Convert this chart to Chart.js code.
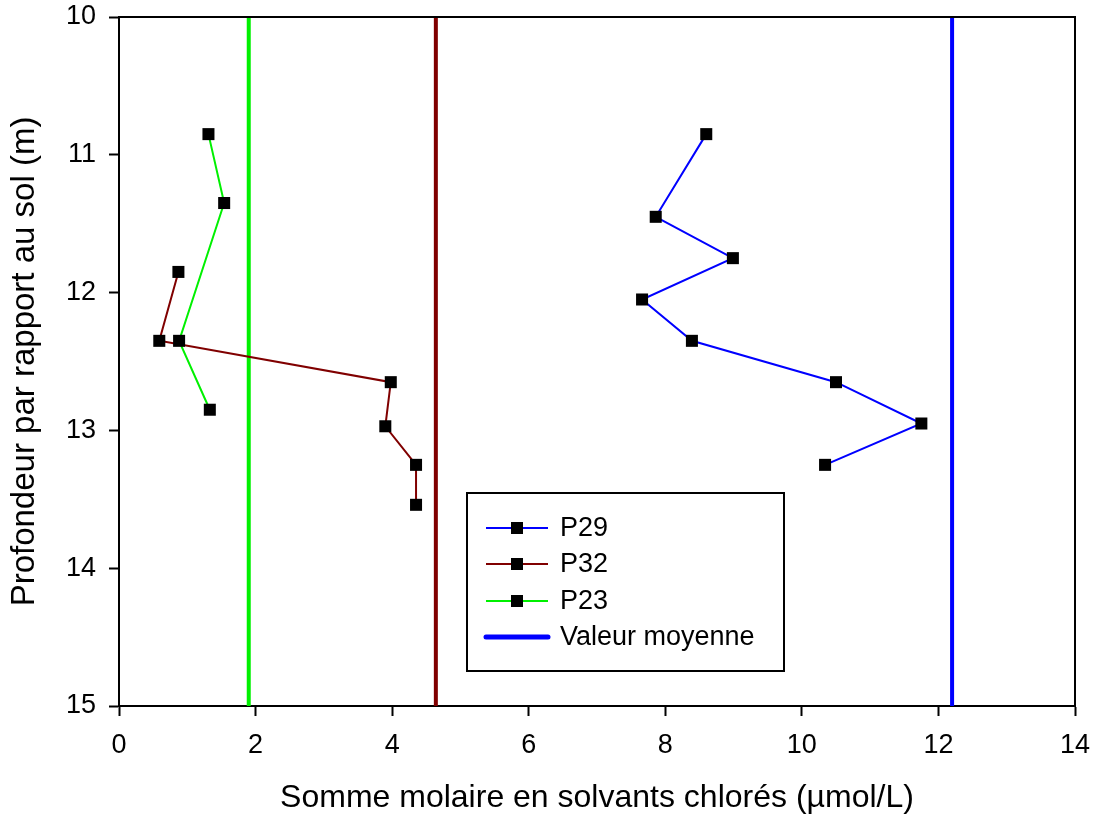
<!DOCTYPE html>
<html>
<head>
<meta charset="utf-8">
<script src="https://cdn.jsdelivr.net/npm/chart.js@4.4.1/dist/chart.umd.min.js"></script>
<style>
  html, body { margin: 0; padding: 0; background: #fff; }
  canvas { display: block; }
</style>
</head>
<body>
<canvas id="profilChart" width="1095" height="818"></canvas>
<script>
// profondeurs (m) et sommes molaires (µmol/L)
var seriesNames = ['P29', 'P32', 'P23'];
var depthP29 = [10.85, 11.45, 11.75, 12.05, 12.35, 12.65, 12.95, 13.25];
var valP29   = [8.60, 7.86, 8.99, 7.66, 8.39, 10.50, 11.75, 10.34];
var depthP32 = [11.85, 12.35, 12.65, 12.97, 13.25, 13.54];
var valP32   = [0.87, 0.59, 3.98, 3.90, 4.35, 4.35];
var depthP23 = [10.85, 11.35, 12.35, 12.85];
var valP23   = [1.31, 1.54, 0.88, 1.33];
// valeur moyenne de chaque puits : P29, P32, P23
var meanValues = [12.20, 4.64, 1.90];
var depthRange = [10, 15];
var xTickMin = 0, xTickMax = 14, xTickStep = 2;

var colors = ['#0000ff', '#800000', '#00f000'];
var FONT = "'Liberation Sans', Arial, sans-serif";

function toPoints(xs, ys) {
	var pts = [];
	for (var i = 0; i < xs.length; i++) pts.push({x: xs[i], y: ys[i]});
	return pts;
}

function serie(label, xs, ys, color, order) {
	return {
		label: label,
		data: toPoints(xs, ys),
		showLine: true,
		borderColor: color,
		borderWidth: 2,
		tension: 0,
		pointStyle: 'rect',
		pointRadius: 8.5,
		pointBorderWidth: 0,
		pointBackgroundColor: '#000',
		order: order
	};
}

function meanLine(value, color) {
	return {
		label: 'Valeur moyenne',
		data: [{x: value, y: depthRange[0]}, {x: value, y: depthRange[1]}],
		showLine: true,
		borderColor: color,
		borderWidth: 4,
		pointRadius: 0,
		order: 10
	};
}

// pas de marge auto pour les labels : zone de tracé fixe
function noPad(s) {
	s.paddingTop = 0;
	s.paddingBottom = 0;
	s.paddingLeft = 0;
	s.paddingRight = 0;
}

// cadre + légende dessinés à la main
var framePlugin = {
	id: 'frame',
	afterDatasetsDraw: function(chart) {
		var a = chart.chartArea, ctx = chart.ctx;
		ctx.save();
		ctx.strokeStyle = '#000';
		ctx.lineWidth = 2;
		ctx.beginPath();
		ctx.moveTo(a.left, a.top);
		ctx.lineTo(a.right, a.top);
		ctx.lineTo(a.right, a.bottom);
		ctx.stroke();

		// légende
		var bx = a.left + 348, by = a.top + 476, bw = 317, bh = 178;
		ctx.lineWidth = 2;
		ctx.fillStyle = '#fff';
		ctx.fillRect(bx, by, bw, bh);
		ctx.strokeRect(bx, by, bw, bh);
		var rowY = [by + 35, by + 71, by + 108, by + 144];
		var items = chart.data.datasets;
		ctx.font = '27px ' + FONT;
		ctx.textBaseline = 'middle';
		for (var i = 0; i < 4; i++) {
			var ds = items[i];
			var y = rowY[i];
			ctx.strokeStyle = ds.borderColor;
			ctx.lineWidth = i < 3 ? 2 : 5;
			ctx.lineCap = i < 3 ? 'butt' : 'round';
			ctx.beginPath();
			ctx.moveTo(bx + 19, y);
			ctx.lineTo(bx + 81, y);
			ctx.stroke();
			if (i < 3) {
				ctx.fillStyle = '#000';
				ctx.fillRect(bx + 50 - 6, y - 6, 12, 12);
			}
			ctx.fillStyle = '#000';
			ctx.fillText(i < 3 ? ds.label : 'Valeur moyenne', bx + 93, y + 1);
		}
		ctx.restore();
	}
};

var datasets = [
	serie(seriesNames[0], valP29, depthP29, colors[0], 0),
	serie(seriesNames[1], valP32, depthP32, colors[1], 2),
	serie(seriesNames[2], valP23, depthP23, colors[2], 1),
	meanLine(meanValues[0], colors[0]),
	meanLine(meanValues[1], colors[1]),
	meanLine(meanValues[2], colors[2])
];

var ctx = document.getElementById('profilChart').getContext('2d');
var myChart = new Chart(ctx, {
	type: 'scatter',
	data: { datasets: datasets },
	options: {
		responsive: false,
		animation: false,
		events: [],
		layout: { padding: { top: 17, right: 20, left: 0, bottom: 0 } },
		plugins: {
			legend: { display: false },
			tooltip: { enabled: false }
		},
		scales: {
			x: {
				type: 'linear',
				min: xTickMin,
				max: xTickMax,
				afterFit: function(s) { s.height = 112; noPad(s); },
				ticks: {
					stepSize: xTickStep,
					color: '#000',
					font: { family: FONT, size: 27 },
					padding: 13
				},
				grid: {
					drawOnChartArea: false,
					drawTicks: true,
					tickLength: 10,
					tickWidth: 2,
					tickColor: '#000'
				},
				border: { display: true, color: '#000', width: 2 },
				title: {
					display: true,
					text: 'Somme molaire en solvants chlorés (µmol/L)',
					color: '#000',
					font: { family: FONT, size: 32 },
					padding: { top: 0, bottom: 1 }
				}
			},
			y: {
				type: 'linear',
				reverse: true,
				min: depthRange[0],
				max: depthRange[1],
				afterFit: function(s) { s.width = 119; noPad(s); },
				ticks: {
					stepSize: 1,
					color: '#000',
					font: { family: FONT, size: 27 },
					padding: 13
				},
				grid: {
					drawOnChartArea: false,
					drawTicks: true,
					tickLength: 10,
					tickWidth: 2,
					tickColor: '#000'
				},
				border: { display: true, color: '#000', width: 2 },
				title: {
					display: true,
					text: 'Profondeur par rapport au sol (m)',
					color: '#000',
					font: { family: FONT, size: 33 },
					padding: { top: 5, bottom: 0 }
				}
			}
		}
	},
	plugins: [framePlugin]
});
</script>
</body>
</html>
